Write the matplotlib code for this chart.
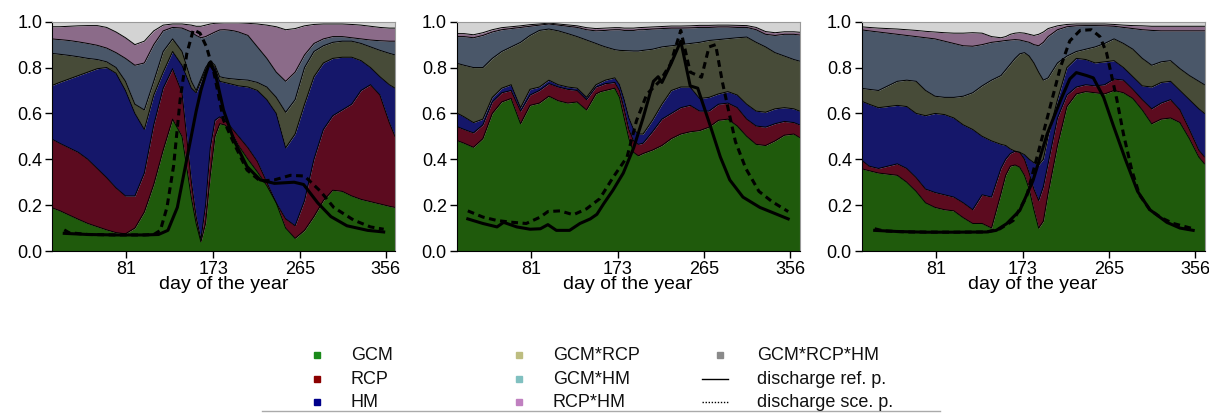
import matplotlib
matplotlib.use("Agg")
import matplotlib.pyplot as plt

plt.rcParams['font.family'] = ['Liberation Sans', 'DejaVu Sans']

# day grid shared by the stacked layers
days = [1, 10, 20, 30, 40, 50, 60, 70, 80, 90, 100, 110, 120, 130, 140, 150, 155, 160, 165, 170,
        175, 180, 185, 190, 195, 200, 210, 220, 230, 240, 250, 260, 270, 280, 290, 300, 310, 320,
        330, 340, 350, 360, 366]

# cumulative upper edge of each layer (fraction of variance)
# ---- panel 1
p1_gcm = [0.19, 0.176, 0.157, 0.138, 0.12, 0.106, 0.092, 0.08, 0.075, 0.10, 0.17, 0.29, 0.44, 0.575,
          0.50, 0.23, 0.12, 0.04, 0.12, 0.33, 0.50, 0.555, 0.55, 0.535, 0.50, 0.46, 0.40, 0.345, 0.285,
          0.21, 0.10, 0.055, 0.09, 0.15, 0.22, 0.265, 0.26, 0.24, 0.225, 0.215, 0.205, 0.195, 0.19]
p1_rcp = [0.49, 0.47, 0.45, 0.43, 0.40, 0.36, 0.32, 0.275, 0.24, 0.24, 0.34, 0.55, 0.71, 0.795,
          0.69, 0.30, 0.15, 0.05, 0.20, 0.45, 0.57, 0.585, 0.57, 0.55, 0.525, 0.50, 0.45, 0.39, 0.30,
          0.21, 0.14, 0.11, 0.22, 0.40, 0.53, 0.59, 0.615, 0.64, 0.70, 0.725, 0.68, 0.56, 0.50]
p1_hm = [0.72, 0.735, 0.75, 0.765, 0.78, 0.795, 0.80, 0.775, 0.70, 0.60, 0.53, 0.68, 0.78, 0.87,
         0.81, 0.71, 0.69, 0.74, 0.79, 0.82, 0.80, 0.74, 0.735, 0.73, 0.725, 0.72, 0.715, 0.70, 0.66,
         0.60, 0.45, 0.51, 0.64, 0.76, 0.82, 0.84, 0.845, 0.845, 0.83, 0.80, 0.76, 0.725, 0.71]
p1_gcm_rcp = [0.862, 0.858, 0.853, 0.847, 0.84, 0.835, 0.825, 0.80, 0.74, 0.64, 0.615, 0.74, 0.87, 0.925,
              0.87, 0.74, 0.70, 0.75, 0.80, 0.83, 0.81, 0.76, 0.755, 0.752, 0.75, 0.748, 0.745, 0.735,
              0.715, 0.67, 0.605, 0.66, 0.80, 0.87, 0.895, 0.91, 0.915, 0.915, 0.905, 0.89, 0.875,
              0.862, 0.855]
p1_gcm_hm = [0.925, 0.922, 0.918, 0.912, 0.905, 0.897, 0.885, 0.865, 0.84, 0.81, 0.82, 0.90, 0.96, 0.975,
             0.972, 0.955, 0.94, 0.93, 0.935, 0.945, 0.955, 0.964, 0.965, 0.963, 0.96, 0.955, 0.94,
             0.89, 0.84, 0.78, 0.74, 0.78, 0.855, 0.905, 0.925, 0.935, 0.935, 0.93, 0.925, 0.92, 0.917,
             0.915, 0.915]
p1_rcp_hm = [0.978, 0.978, 0.98, 0.982, 0.983, 0.983, 0.975, 0.955, 0.93, 0.90, 0.915, 0.96, 0.985, 0.99,
             0.99, 0.985, 0.98, 0.98, 0.985, 0.99, 0.993, 0.994, 0.995, 0.995, 0.995, 0.995, 0.993, 0.99,
             0.985, 0.978, 0.965, 0.97, 0.982, 0.988, 0.99, 0.99, 0.99, 0.988, 0.985, 0.98, 0.975,
             0.972, 0.972]
# ---- panel 2
p2_gcm = [0.484, 0.47, 0.452, 0.49, 0.60, 0.65, 0.665, 0.555, 0.635, 0.645, 0.675, 0.655, 0.645, 0.65,
          0.615, 0.685, 0.695, 0.70, 0.705, 0.71, 0.67, 0.58, 0.49, 0.43, 0.415, 0.425, 0.44, 0.46,
          0.49, 0.51, 0.52, 0.525, 0.54, 0.57, 0.575, 0.545, 0.50, 0.465, 0.46, 0.48, 0.505, 0.51, 0.495]
p2_rcp = [0.545, 0.53, 0.515, 0.55, 0.65, 0.69, 0.70, 0.61, 0.68, 0.70, 0.73, 0.715, 0.705, 0.70,
          0.66, 0.715, 0.722, 0.73, 0.732, 0.735, 0.70, 0.62, 0.53, 0.48, 0.465, 0.47, 0.52, 0.575,
          0.60, 0.625, 0.635, 0.61, 0.61, 0.64, 0.645, 0.625, 0.575, 0.545, 0.54, 0.555, 0.565, 0.56, 0.55]
p2_hm = [0.605, 0.585, 0.56, 0.575, 0.67, 0.71, 0.725, 0.625, 0.705, 0.715, 0.745, 0.725, 0.715, 0.71,
         0.67, 0.725, 0.735, 0.745, 0.75, 0.755, 0.725, 0.66, 0.58, 0.53, 0.51, 0.51, 0.57, 0.64,
         0.70, 0.715, 0.715, 0.665, 0.67, 0.685, 0.695, 0.68, 0.64, 0.61, 0.605, 0.62, 0.625, 0.62, 0.61]
p2_gcm_rcp = [0.82, 0.81, 0.80, 0.80, 0.84, 0.87, 0.89, 0.91, 0.94, 0.962, 0.968, 0.96, 0.948, 0.935,
              0.92, 0.905, 0.897, 0.89, 0.884, 0.878, 0.875, 0.874, 0.873, 0.872, 0.872, 0.875, 0.88,
              0.89, 0.895, 0.90, 0.905, 0.91, 0.918, 0.922, 0.926, 0.93, 0.933, 0.91, 0.89, 0.865, 0.85,
              0.835, 0.828]
p2_gcm_hm = [0.935, 0.935, 0.93, 0.94, 0.955, 0.965, 0.97, 0.975, 0.98, 0.985, 0.99, 0.985, 0.98, 0.975,
             0.965, 0.96, 0.961, 0.962, 0.964, 0.965, 0.965, 0.962, 0.962, 0.962, 0.965, 0.965, 0.968,
             0.97, 0.972, 0.972, 0.973, 0.975, 0.975, 0.977, 0.977, 0.975, 0.975, 0.965, 0.945, 0.94,
             0.945, 0.945, 0.942]
p2_rcp_hm = [0.948, 0.948, 0.943, 0.952, 0.965, 0.974, 0.978, 0.982, 0.987, 0.99, 0.994, 0.99, 0.986,
             0.982, 0.974, 0.97, 0.971, 0.972, 0.973, 0.974, 0.974, 0.972, 0.972, 0.972, 0.974, 0.975,
             0.977, 0.979, 0.981, 0.981, 0.982, 0.984, 0.984, 0.985, 0.985, 0.984, 0.983, 0.975, 0.957,
             0.952, 0.956, 0.956, 0.954]
# ---- panel 3
p3_gcm = [0.36, 0.35, 0.34, 0.335, 0.33, 0.30, 0.26, 0.21, 0.19, 0.18, 0.175, 0.145, 0.12, 0.12, 0.10,
          0.25, 0.33, 0.37, 0.375, 0.365, 0.33, 0.27, 0.18, 0.10, 0.13, 0.25, 0.46, 0.63, 0.685, 0.695,
          0.69, 0.685, 0.70, 0.69, 0.665, 0.615, 0.555, 0.575, 0.58, 0.56, 0.49, 0.41, 0.38]
p3_rcp = [0.40, 0.37, 0.36, 0.37, 0.38, 0.36, 0.32, 0.27, 0.255, 0.245, 0.235, 0.21, 0.18, 0.245, 0.235,
          0.36, 0.40, 0.425, 0.435, 0.43, 0.40, 0.34, 0.27, 0.22, 0.28, 0.38, 0.58, 0.68, 0.715, 0.725,
          0.72, 0.725, 0.75, 0.745, 0.705, 0.66, 0.62, 0.645, 0.66, 0.615, 0.53, 0.44, 0.41]
p3_hm = [0.655, 0.64, 0.625, 0.63, 0.635, 0.63, 0.60, 0.59, 0.60, 0.595, 0.58, 0.55, 0.53, 0.50, 0.48,
         0.465, 0.46, 0.445, 0.435, 0.43, 0.42, 0.40, 0.385, 0.375, 0.40, 0.50, 0.66, 0.80, 0.84, 0.835,
         0.82, 0.825, 0.83, 0.80, 0.76, 0.72, 0.715, 0.735, 0.74, 0.70, 0.66, 0.62, 0.60]
p3_gcm_rcp = [0.71, 0.705, 0.70, 0.72, 0.74, 0.745, 0.74, 0.70, 0.675, 0.67, 0.67, 0.675, 0.69, 0.72,
              0.745, 0.765, 0.79, 0.815, 0.84, 0.86, 0.865, 0.85, 0.82, 0.78, 0.745, 0.755, 0.82, 0.85,
              0.87, 0.88, 0.89, 0.905, 0.925, 0.905, 0.88, 0.84, 0.81, 0.825, 0.83, 0.795, 0.765, 0.74,
              0.725]
p3_gcm_hm = [0.965, 0.96, 0.955, 0.95, 0.945, 0.94, 0.935, 0.93, 0.925, 0.915, 0.905, 0.895, 0.893,
             0.90, 0.91, 0.915, 0.918, 0.92, 0.922, 0.92, 0.915, 0.91, 0.90, 0.895, 0.91, 0.935, 0.965,
             0.978, 0.982, 0.983, 0.983, 0.982, 0.98, 0.975, 0.97, 0.965, 0.962, 0.96, 0.96, 0.96, 0.96,
             0.96, 0.96]
p3_rcp_hm = [0.978, 0.975, 0.972, 0.97, 0.968, 0.965, 0.962, 0.958, 0.955, 0.952, 0.95, 0.95, 0.952,
             0.95, 0.935, 0.93, 0.935, 0.945, 0.95, 0.952, 0.95, 0.945, 0.94, 0.945, 0.955, 0.97, 0.982,
             0.988, 0.99, 0.99, 0.99, 0.99, 0.988, 0.985, 0.983, 0.982, 0.98, 0.98, 0.98, 0.98, 0.98,
             0.98, 0.98]

# normalised discharge, reference period (solid) and scenario period (dashed)
p1_ref_days = [15, 40, 70, 100, 115, 125, 135, 145, 155, 160, 165, 169, 175, 184, 195, 209, 223, 238,
               259, 269, 284, 298, 315, 337, 354]
p1_ref = [0.077, 0.072, 0.07, 0.07, 0.072, 0.09, 0.19, 0.40, 0.61, 0.70, 0.77, 0.82, 0.78, 0.615,
          0.484, 0.368, 0.31, 0.295, 0.30, 0.29, 0.21, 0.15, 0.11, 0.09, 0.083]
p1_sce_days = [15, 20, 40, 70, 100, 110, 117, 124, 131, 138, 145, 152, 159, 166, 174, 184, 195, 209,
               223, 238, 255, 270, 287, 301, 322, 340, 354]
p1_sce = [0.092, 0.08, 0.072, 0.07, 0.07, 0.072, 0.09, 0.19, 0.37, 0.66, 0.86, 0.965, 0.95, 0.89,
          0.775, 0.571, 0.47, 0.353, 0.305, 0.31, 0.33, 0.327, 0.26, 0.19, 0.135, 0.105, 0.095]
p2_ref_days = [14, 30, 45, 52, 66, 80, 91, 99, 108, 122, 133, 144, 151, 158, 168, 179, 190, 200, 211,
               216, 220, 230, 240, 250, 258, 262, 271, 282, 292, 306, 324, 342, 354]
p2_ref = [0.14, 0.12, 0.105, 0.125, 0.105, 0.095, 0.097, 0.115, 0.09, 0.09, 0.12, 0.14, 0.16, 0.205,
          0.265, 0.34, 0.45, 0.58, 0.74, 0.76, 0.735, 0.82, 0.915, 0.72, 0.71, 0.66, 0.55, 0.41, 0.31,
          0.235, 0.19, 0.16, 0.14]
p2_sce_days = [14, 30, 45, 59, 76, 91, 99, 112, 126, 140, 154, 168, 183, 193, 204, 218, 229, 240, 250,
               262, 270, 277, 284, 291, 298, 309, 323, 337, 354]
p2_sce = [0.175, 0.148, 0.133, 0.126, 0.12, 0.148, 0.172, 0.175, 0.158, 0.184, 0.228, 0.32, 0.41,
          0.568, 0.684, 0.742, 0.815, 0.962, 0.78, 0.758, 0.89, 0.9, 0.74, 0.607, 0.477, 0.36, 0.26,
          0.215, 0.172]
p3_ref_days = [16, 40, 70, 100, 135, 145, 156, 170, 184, 199, 213, 223, 230, 241, 248, 259, 269, 282,
               295, 308, 326, 340, 354]
p3_ref = [0.09, 0.085, 0.082, 0.082, 0.083, 0.09, 0.119, 0.177, 0.307, 0.51, 0.655, 0.75, 0.778,
          0.765, 0.755, 0.67, 0.55, 0.40, 0.26, 0.18, 0.125, 0.10, 0.09]
p3_sce_days = [16, 25, 50, 100, 135, 149, 163, 177, 191, 202, 213, 223, 234, 246, 255, 262, 273, 280,
               289, 297, 308, 320, 333, 354]
p3_sce = [0.097, 0.088, 0.083, 0.082, 0.083, 0.097, 0.133, 0.235, 0.452, 0.626, 0.80, 0.916, 0.962,
          0.965, 0.935, 0.865, 0.66, 0.51, 0.35, 0.245, 0.18, 0.145, 0.12, 0.097]

layer_names = ['GCM', 'RCP', 'HM', 'GCM*RCP', 'GCM*HM', 'RCP*HM', 'GCM*RCP*HM']
fill_colors = ['#1f5a0c', '#5c0b1f', '#15176a', '#474b38', '#4a5769', '#8b6b89', '#d3d3d3']
legend_colors = ['#1a8a1a', '#8b0000', '#00008b', '#bdbd80', '#80c0c0', '#c080c0', '#8a8a8a']

x_ticks = [81, 173, 265, 356]
y_ticks = [0.0, 0.2, 0.4, 0.6, 0.8, 1.0]


def draw_panel(ax, edges, ref_days, ref_q, sce_days, sce_q):
    top = [1.0] * len(days)
    lower = [0.0] * len(days)
    for upper, col in zip(edges + [top], fill_colors):
        ax.fill_between(days, lower, upper, color=col, lw=0)
        lower = upper
    for upper in edges:
        ax.plot(days, upper, color='black', lw=0.7)
    ax.plot(ref_days, ref_q, color='black', lw=2.2)
    ax.plot(sce_days, sce_q, color='black', lw=2.2, dashes=(2.2, 1.5))

    ax.set_xlim(2, 366)
    ax.set_ylim(0, 1)
    ax.set_xticks(x_ticks)
    ax.set_yticks(y_ticks)
    ax.set_yticklabels(['%.1f' % v for v in y_ticks])
    ax.tick_params(length=5, width=1, labelsize=13, pad=2, colors='black')
    for s in ['top', 'right']:
        ax.spines[s].set_color('#999999')
        ax.spines[s].set_linewidth(0.8)
    ax.set_xlabel('day of the year', fontsize=14, labelpad=-1)


fig = plt.figure(figsize=(12.09, 4.15), dpi=100)
W, H = 1209.0, 415.0
panels = [
    (52, [p1_gcm, p1_rcp, p1_hm, p1_gcm_rcp, p1_gcm_hm, p1_rcp_hm], p1_ref_days, p1_ref, p1_sce_days, p1_sce),
    (456.5, [p2_gcm, p2_rcp, p2_hm, p2_gcm_rcp, p2_gcm_hm, p2_rcp_hm], p2_ref_days, p2_ref, p2_sce_days, p2_sce),
    (861.5, [p3_gcm, p3_rcp, p3_hm, p3_gcm_rcp, p3_gcm_hm, p3_rcp_hm], p3_ref_days, p3_ref, p3_sce_days, p3_sce),
]
for left, edges, rd, rq, sd, sq in panels:
    ax = fig.add_axes([left / W, (H - 251) / H, 343 / W, 229.3 / H])
    draw_panel(ax, edges, rd, rq, sd, sq)

# legend drawn in pixel coordinates
lax = fig.add_axes([0, 0, 1, 1])
lax.set_xlim(0, W)
lax.set_ylim(H, 0)
lax.axis('off')
rows = [355, 379, 402]
cols = [(317, 351), (519, 553), (720, 757)]
for i, name in enumerate(layer_names):
    c, r = divmod(i, 3)
    mx, tx = cols[c]
    lax.plot([mx], [rows[r]], marker='s', ms=5, color=legend_colors[i], ls='none')
    lax.text(tx, rows[r], name, fontsize=13, va='center', ha='left', color='#111111')
lax.plot([702, 728], [rows[1], rows[1]], color='black', lw=1)
lax.text(cols[2][1], rows[1], 'discharge ref. p.', fontsize=13, va='center', ha='left', color='#111111')
lax.plot([702, 728], [rows[2], rows[2]], color='black', lw=1, ls=(0, (1, 1.2)))
lax.text(cols[2][1], rows[2], 'discharge sce. p.', fontsize=13, va='center', ha='left', color='#111111')
lax.plot([262, 940], [411, 411], color='#aaaaaa', lw=1)

fig.savefig('out.png', dpi=100)
